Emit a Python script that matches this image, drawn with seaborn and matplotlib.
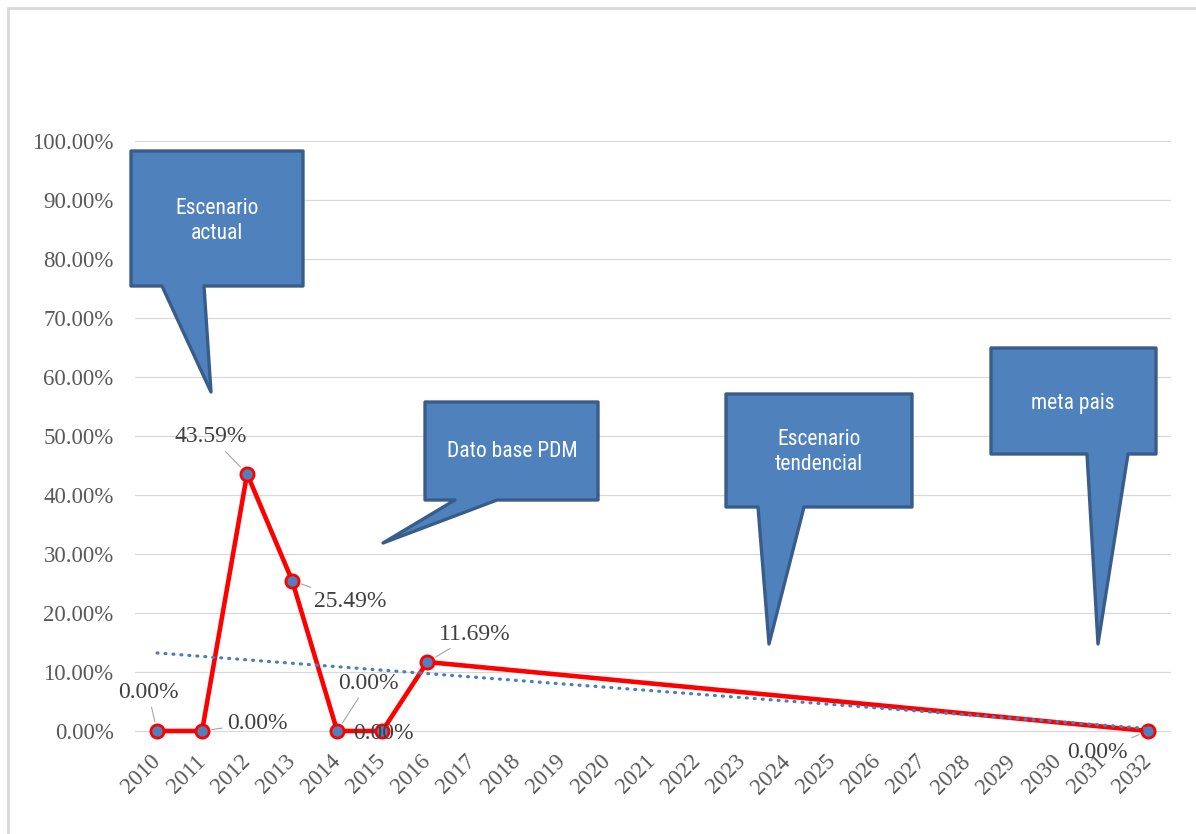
import matplotlib
matplotlib.use("Agg")
import matplotlib.pyplot as plt
from matplotlib import font_manager
from matplotlib.patches import Polygon, Rectangle
from matplotlib.ticker import PercentFormatter
import seaborn as sns

# categories on the x axis
YEARS = [str(y) for y in range(2010, 2033)]

# observed series
DATA_YEARS = ["2010", "2011", "2012", "2013", "2014", "2015", "2016", "2032"]
VALUES = [0.0, 0.0, 0.4359, 0.2549, 0.0, 0.0, 0.1169, 0.0]

# data label offsets in pixels (dx, dy)
LABEL_OFFSETS = [(-9, 39), (55, 8), (-36, 37), (58, -21), (31, 48), (1, -2), (47, 28), (-51, -21)]

# callouts: text, centre of text, polygon outline (figure pixels, y down)
CALLOUT_TEXT = ["Escenario\nactual", "Dato base PDM", "Escenario\ntendencial", "meta pais"]
CALLOUT_TEXT_POS = [(217, 221), (512, 452), (819, 452), (1073, 403)]
CALLOUT_SHAPES = [
    [(131, 151), (303, 151), (303, 286), (204, 286), (211, 392), (162, 286), (131, 286)],
    [(425, 402), (598, 402), (598, 500), (497, 500), (383, 543), (455, 500), (425, 500)],
    [(726, 394), (912, 394), (912, 507), (804, 507), (769, 644), (758, 507), (726, 507)],
    [(991, 348), (1156, 348), (1156, 454), (1128, 454), (1098, 644), (1087, 454), (991, 454)],
]

W, H = 1196, 834
GRAY_TXT = "#595959"
BOX_FILL = "#4F81BD"
BOX_EDGE = "#385D8A"

sns.set_style("white")
plt.rcParams["font.family"] = ["Liberation Serif", "DejaVu Serif"]

# narrow sans for the callouts, if one is around
names = {f.name for f in font_manager.fontManager.ttflist}
narrow = [f for f in font_manager.fontManager.ttflist
          if f.name == "DejaVu Sans" and "ondensed" in str(f.stretch) + f.fname]
if "Liberation Sans Narrow" in names:
    CALLOUT_FONT = dict(family="Liberation Sans Narrow", fontsize=16)
elif "Roboto Condensed" in names:
    CALLOUT_FONT = dict(family="Roboto Condensed", fontsize=15.5)
elif narrow:
    CALLOUT_FONT = dict(family="DejaVu Sans", stretch="condensed", fontsize=13.5)
else:
    CALLOUT_FONT = dict(family="Liberation Sans", fontsize=13.5)


def fx(px):
    return px / W


def fy(py):
    return 1 - py / H


fig = plt.figure(figsize=(W / 100, H / 100), dpi=100)

# light frame around the chart (left and top edges show)
fig.patches.append(Rectangle((fx(8), fy(845)), fx(1220) - fx(8), fy(8) - fy(845),
                             transform=fig.transFigure, fill=False,
                             edgecolor="#D9D9D9", lw=2, zorder=0))

ylo, yhi = -0.03, 1.02
x_left, x_right = 134.5, 1170.5
y0_px, y100_px = 731, 141
per = y0_px - y100_px
bot_px = y0_px - ylo * per
top_px = y100_px - (yhi - 1) * per
ax = fig.add_axes([fx(x_left), fy(bot_px), fx(x_right) - fx(x_left), (bot_px - top_px) / H])

xpos = [YEARS.index(y) for y in DATA_YEARS]

sns.lineplot(x=xpos, y=VALUES, ax=ax, color="#FF0000", lw=3.3, marker="o",
             markersize=9.5, markerfacecolor=BOX_FILL, markeredgecolor="#FF0000",
             markeredgewidth=2, zorder=3)

sns.regplot(x=xpos, y=VALUES, ax=ax, ci=None, scatter=False, truncate=True,
            line_kws=dict(color="#4A7EBB", lw=2.3, ls=(0, (0.3, 2.2)),
                          dash_capstyle="round", zorder=4))

ax.set_xlim(-0.5, len(YEARS) - 0.5)
ax.set_ylim(ylo, yhi)
ax.set_xticks(range(len(YEARS)))
ax.set_xticklabels(YEARS, rotation=45, ha="right", va="center", rotation_mode="anchor")
ax.set_yticks([i / 10 for i in range(11)])
ax.yaxis.set_major_formatter(PercentFormatter(1.0, decimals=2))
ax.tick_params(axis="y", length=0, pad=15, labelsize=16.5, labelcolor=GRAY_TXT)
ax.tick_params(axis="x", length=0, pad=7, labelsize=16.5, labelcolor=GRAY_TXT)
ax.grid(axis="y", color="#D9D9D9", lw=0.9)
ax.grid(axis="x", visible=False)
for s in ax.spines.values():
    s.set_visible(False)
ax.set_xlabel("")
ax.set_ylabel("")

for x, v, (dx, dy) in zip(xpos, VALUES, LABEL_OFFSETS):
    arrow = None
    if abs(dx) + abs(dy) > 10:
        arrow = dict(arrowstyle="-", color="#A6A6A6", lw=0.8, shrinkA=1, shrinkB=7)
    ax.annotate(f"{v:.2%}", xy=(x, v), xytext=(dx, dy), textcoords="offset pixels",
                ha="center", va="center", fontsize=17, color="#404040",
                arrowprops=arrow, zorder=5)

for txt, (tx, ty), shape in zip(CALLOUT_TEXT, CALLOUT_TEXT_POS, CALLOUT_SHAPES):
    poly = Polygon([(fx(px), fy(py)) for px, py in shape], closed=True,
                   transform=fig.transFigure, facecolor=BOX_FILL, edgecolor=BOX_EDGE,
                   lw=2.4, joinstyle="round", zorder=6)
    fig.patches.append(poly)
    fig.text(fx(tx), fy(ty), txt, ha="center", va="center", color="white",
             linespacing=1.25, zorder=7, **CALLOUT_FONT)

fig.savefig("out.png", dpi=100)
